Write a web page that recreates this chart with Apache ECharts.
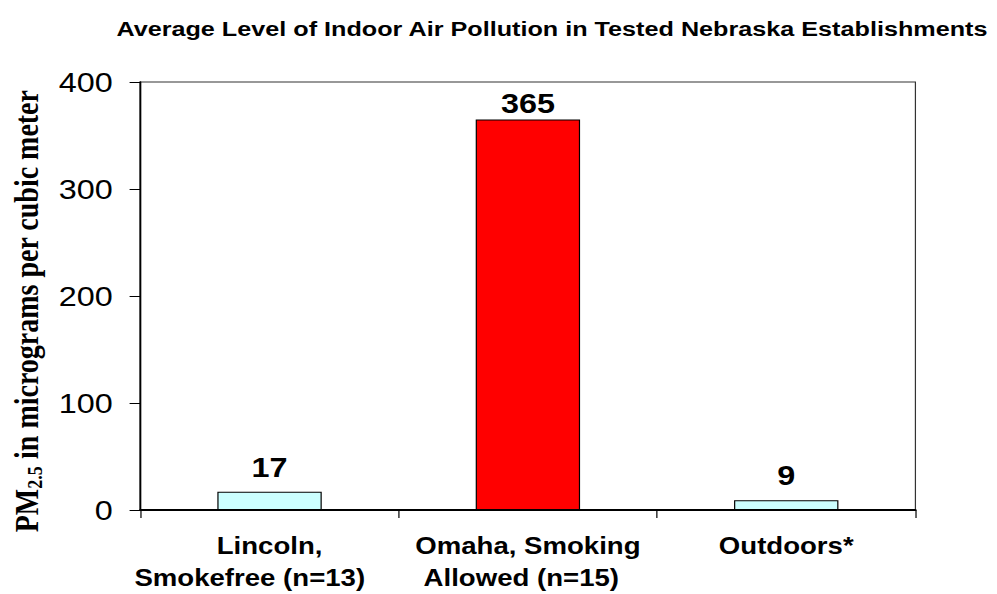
<!DOCTYPE html>
<html>
<head>
<meta charset="utf-8">
<script src="https://cdn.jsdelivr.net/npm/echarts@6/dist/echarts.min.js"></script>
<style>
html,body{margin:0;padding:0;background:#fff;overflow:hidden;width:997px;height:594px;}
#chart{width:831px;height:594px;transform:scaleX(1.19976);transform-origin:0 0;}
</style>
</head>
<body>
<div id="chart"></div>
<script>
// Data
const titleText = 'Average Level of Indoor Air Pollution in Tested Nebraska Establishments';
const categories = ['Lincoln,\nSmokefree (n=13)', 'Omaha, Smoking\nAllowed (n=15)', 'Outdoors*'];
const values = [17, 365, 9];
const yMin = 0, yMax = 400, yStep = 100;

const chart = echarts.init(document.getElementById('chart'), null, {renderer: 'svg'});
const barColors = ['#CCFFFF', '#FF0000', '#CCFFFF'];
const secondLinePad = [33, 11, 0];
const labelFont = {fontFamily: 'Liberation Sans, Arial', fontWeight: 'bold', fontSize: 23, lineHeight: 32, color: '#000'};
const option = {
  animation: false,
  backgroundColor: '#fff',
  title: {
    text: titleText,
    left: 97, top: 18, padding: 0,
    textStyle: {fontFamily: 'Liberation Sans, Arial', fontWeight: 'bold', fontSize: 21, color: '#000'}
  },
  graphic: [{
    type: 'rect', z: 100, left: 0, top: 42,
    shape: {width: 831, height: 12},
    style: {fill: '#fff'}
  }],
  grid: {left: 116, right: 68, top: 82, bottom: 82, show: true, borderColor: '#333', borderWidth: 1, containLabel: false},
  xAxis: {
    type: 'category',
    data: categories,
    axisLine: {lineStyle: {color: '#000', width: 2}},
    axisTick: {show: true, alignWithLabel: false, length: 8, lineStyle: {color: '#000', width: 1}},
    axisLabel: Object.assign({
      interval: 0, margin: 20,
      formatter: function (val, idx) {
        const lines = val.split('\n');
        if (lines.length < 2) return '{a|' + lines[0] + '}';
        return '{a|' + lines[0] + '}\n{b' + idx + '|' + lines[1] + '}';
      },
      rich: {
        a: Object.assign({}, labelFont),
        b0: Object.assign({padding: [0, secondLinePad[0], 0, 0]}, labelFont),
        b1: Object.assign({padding: [0, secondLinePad[1], 0, 0]}, labelFont),
        b2: Object.assign({padding: [0, secondLinePad[2], 0, 0]}, labelFont)
      }
    }, labelFont),
    splitLine: {show: false}
  },
  yAxis: {
    type: 'value',
    min: yMin, max: yMax, interval: yStep,
    name: '{a|PM}{s|2.5}{a| in micrograms per cubic meter}',
    nameLocation: 'middle',
    nameRotate: 90,
    nameGap: 79,
    nameTextStyle: {
      padding: [0, 30, 0, 0],
      rich: {
        a: {fontFamily: 'Liberation Serif, Times New Roman', fontWeight: 'bold', fontSize: 28, lineHeight: 32, color: '#000'},
        s: {fontFamily: 'Liberation Serif, Times New Roman', fontWeight: 'bold', fontSize: 18, lineHeight: 32, verticalAlign: 'bottom', color: '#000'}
      }
    },
    axisLine: {show: true, lineStyle: {color: '#000', width: 1.6}},
    axisTick: {show: true, length: 9, lineStyle: {color: '#000', width: 1}},
    axisLabel: {margin: 23, color: '#000', fontFamily: 'Liberation Sans, Arial', fontSize: 27},
    splitLine: {show: false}
  },
  series: [{
    type: 'bar',
    barWidth: 87,
    data: values.map((v, i) => ({
      value: v,
      itemStyle: {color: barColors[i], borderColor: '#000', borderWidth: 1},
      label: {distance: v > 300 ? 2 : 11}
    })),
    label: {
      show: true, position: 'top', color: '#000',
      fontFamily: 'Liberation Sans, Arial', fontWeight: 'bold', fontSize: 27
    }
  }]
};
chart.setOption(option);
</script>
</body>
</html>
